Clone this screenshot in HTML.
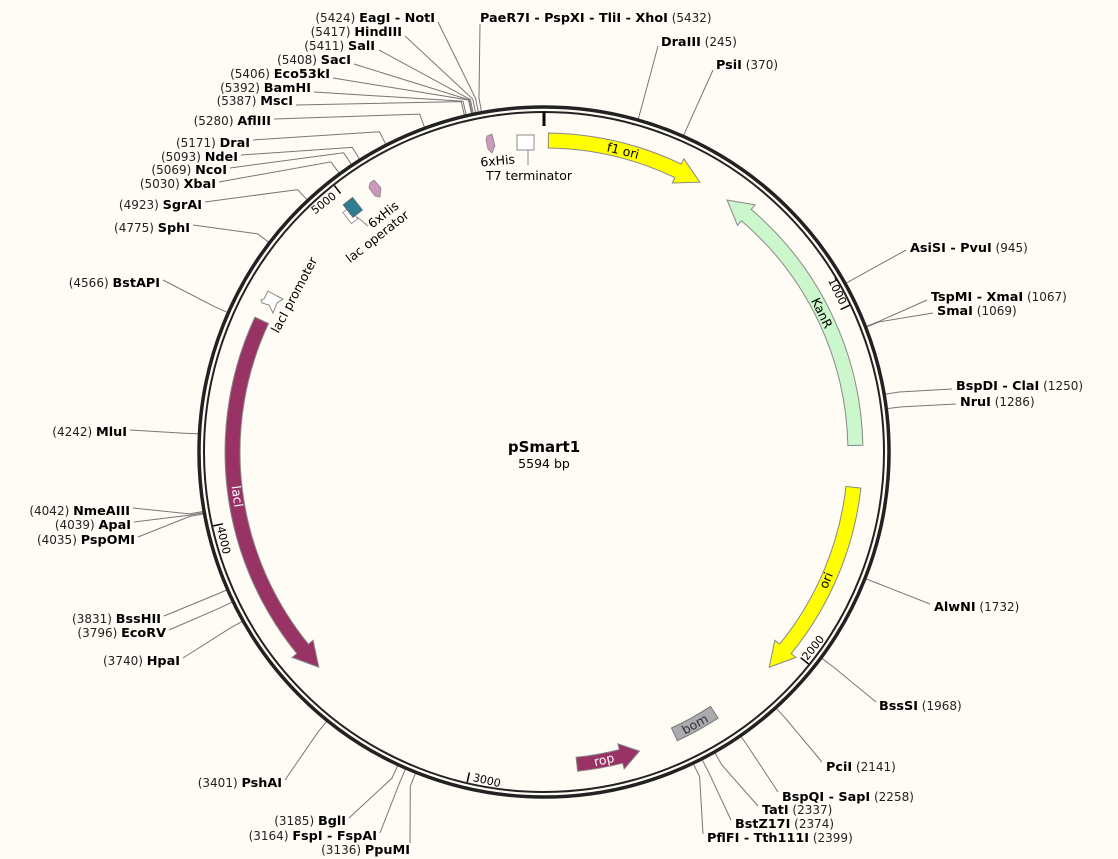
<!DOCTYPE html>
<html><head><meta charset="utf-8"><style>
html,body{margin:0;padding:0;background:#fffcf5;}
svg{display:block;font-family:"DejaVu Sans","Liberation Sans",sans-serif;}
.n{font-size:12px;fill:#222;}
.b{font-size:12.8px;font-weight:bold;fill:#000;}
.l{stroke:#777;stroke-width:1;fill:none;}
.t{font-size:11px;fill:#000;}
.f{font-size:12.5px;fill:#000;}
</style></head><body>
<svg id="s" width="1118" height="859" viewBox="0 0 1118 859" xmlns="http://www.w3.org/2000/svg">
<rect width="1118" height="859" fill="#fffcf5"/>
<g id="lines">
<polyline class="l" points="480,24 479,98 481.5,112"/>
<polyline class="l" points="438,22 475.7,98.6 478.3,112.3"/>
<polyline class="l" points="405,36 472.8,99.1 475.6,112.8"/>
<polyline class="l" points="379,50 470.4,99.6 473.2,113.3"/>
<polyline class="l" points="354,64 469.2,99.9 472.1,113.6"/>
<polyline class="l" points="333,78 468.5,100 471.5,113.7"/>
<polyline class="l" points="314,92 463,101.2 466.2,114.9"/>
<polyline class="l" points="296,105 461.2,101.6 464.4,115.3"/>
<polyline class="l" points="274,119 419.7,114.1 424.5,127.3"/>
<polyline class="l" points="253,140 379.4,131.8 385.8,144.3"/>
<polyline class="l" points="241,155 352.2,147.4 359.6,159.2"/>
<polyline class="l" points="230,168 343.7,152.8 351.5,164.5"/>
<polyline class="l" points="219,182 330.9,161.9 339.2,173.2"/>
<polyline class="l" points="205,202 297.6,189.6 307.2,199.8"/>
<polyline class="l" points="193,225 257.6,233.8 268.8,242.3"/>
<polyline class="l" points="163,280 214.6,306.7 227.4,312.4"/>
<polyline class="l" points="130,430 184.5,433.2 198.5,433.9"/>
<polyline class="l" points="133,508 189.4,513.9 203.2,511.5"/>
<polyline class="l" points="134,522 189.6,515.1 203.4,512.7"/>
<polyline class="l" points="138,537 189.8,516.4 203.6,513.9"/>
<polyline class="l" points="164,616 213.8,595.5 226.7,590"/>
<polyline class="l" points="169,630 219.6,608.1 232.2,602.1"/>
<polyline class="l" points="183,658 230,628.2 242.3,621.3"/>
<polyline class="l" points="285,780 317.9,732.2 326.7,721.3"/>
<polyline class="l" points="349,818 391.9,778.3 397.8,765.6"/>
<polyline class="l" points="380,833 399.9,781.9 405.5,769.1"/>
<polyline class="l" points="410,843 410.3,786.3 415.5,773.3"/>
<polyline class="l" points="658,46 642,105.6 638.2,119.1"/>
<polyline class="l" points="713,70 689.3,122.6 683.6,135.4"/>
<polyline class="l" points="906,250 858.2,276.4 846,283.2"/>
<polyline class="l" points="927,300 879.4,321.2 866.4,326.3"/>
<polyline class="l" points="933,313 879.6,321.8 866.6,326.9"/>
<polyline class="l" points="952,389 899,392 885.2,394.3"/>
<polyline class="l" points="956,404 901.2,406.9 887.3,408.6"/>
<polyline class="l" points="930,604 878.9,583.9 865.9,578.8"/>
<polyline class="l" points="876,702 833,666.6 821.8,658.3"/>
<polyline class="l" points="822,762 785.8,718.7 776.4,708.3"/>
<polyline class="l" points="778,792 749,748 741,736.4"/>
<polyline class="l" points="758,806 721.8,765 714.9,752.8"/>
<polyline class="l" points="731,820 708.6,772.2 702.2,759.7"/>
<polyline class="l" points="703,834 699.6,776.6 693.5,764"/>
</g>
<circle cx="544" cy="452" r="345" fill="none" stroke="#222" stroke-width="3.5"/>
<circle cx="544" cy="452" r="340" fill="none" stroke="#222" stroke-width="2"/>
<g stroke="#000">
<line x1="544" y1="112" x2="544" y2="126" stroke-width="3"/>
<line x1="849.6" y1="305.2" x2="840.6" y2="309.5" stroke-width="1.5"/>
<line x1="808.6" y1="664" x2="800.7" y2="657.7" stroke-width="1.5"/>
<line x1="467.2" y1="782.2" x2="469.4" y2="772.4" stroke-width="1.5"/>
<line x1="213.2" y1="525.9" x2="222.9" y2="523.8" stroke-width="1.5"/>
<line x1="334.4" y1="185.6" x2="340.5" y2="193.4" stroke-width="1.5"/>
</g>
<g class="t">
<text transform="translate(834,293) rotate(64)" text-anchor="middle">1000</text>
<text transform="translate(816,650) rotate(-51)" text-anchor="middle">2000</text>
<text transform="translate(486,784) rotate(13)" text-anchor="middle">3000</text>
<text transform="translate(220,541) rotate(77)" text-anchor="middle">4000</text>
<text transform="translate(326,206) rotate(-38)" text-anchor="middle">5000</text>
</g>
<g id="feat"></g>
<polygon points="487,136 492,134 495,146 492,153 488,149 486,140" fill="#cc99bb" stroke="#888" stroke-width="0.8"/>
<rect x="517" y="135" width="17" height="15" fill="#fff" stroke="#888" stroke-width="1"/>
<line x1="528" y1="150" x2="528" y2="165" stroke="#888"/>
<g transform="translate(352,208) rotate(-38)">
<rect x="-10" y="-2" width="8" height="14" fill="#fff" stroke="#888" stroke-width="0.8"/>
<rect x="-5" y="-8" width="12" height="16" fill="#2e7d94" stroke="#666" stroke-width="0.8"/>
</g>
<line x1="357" y1="217" x2="368" y2="226" stroke="#888"/>
<polygon points="370,183 374,180 381,188 380,197 375,196 369,188" fill="#cc99bb" stroke="#888" stroke-width="0.8"/>
<polygon points="268,291 277,296 283,299 277,303 273,313 269,305 262,303 261,300 264,299" fill="#fff" stroke="#888" stroke-width="1"/>
<g class="f">
<text transform="translate(498,165) rotate(-5)" text-anchor="middle">6xHis</text>
<text x="529" y="180" text-anchor="middle">T7 terminator</text>
<text transform="translate(386,218) rotate(-38)" text-anchor="middle">6xHis</text>
<text transform="translate(380,240) rotate(-38)" text-anchor="middle">lac operator</text>
<text transform="translate(298,297) rotate(-62)" text-anchor="middle">lacI promoter</text>
</g>
<g class="f">
<text transform="translate(622,155) rotate(14)" text-anchor="middle">f1 ori</text>
<text transform="translate(818,315) rotate(64)" text-anchor="middle">KanR</text>
<text transform="translate(830,582) rotate(-67)" text-anchor="middle">ori</text>
<text transform="translate(233,497) rotate(82)" text-anchor="middle" fill="#fff">lacI</text>
<text transform="translate(605,764) rotate(-13)" text-anchor="middle" fill="#fff">rop</text>
<text transform="translate(697,728) rotate(-29)" text-anchor="middle" fill="#333">bom</text>
</g>
<text x="544" y="452" text-anchor="middle" style="font-size:15px;font-weight:bold">pSmart1</text>
<text x="544" y="468" text-anchor="middle" style="font-size:12.5px">5594 bp</text>
<g text-anchor="end">
<text x="435" y="22"><tspan class="n">(5424)  </tspan><tspan class="b">EagI - NotI</tspan></text>
<text x="402" y="36"><tspan class="n">(5417)  </tspan><tspan class="b">HindIII</tspan></text>
<text x="375" y="50"><tspan class="n">(5411)  </tspan><tspan class="b">SalI</tspan></text>
<text x="351" y="64"><tspan class="n">(5408)  </tspan><tspan class="b">SacI</tspan></text>
<text x="330" y="78"><tspan class="n">(5406)  </tspan><tspan class="b">Eco53kI</tspan></text>
<text x="311" y="92"><tspan class="n">(5392)  </tspan><tspan class="b">BamHI</tspan></text>
<text x="293" y="105"><tspan class="n">(5387)  </tspan><tspan class="b">MscI</tspan></text>
<text x="271" y="125"><tspan class="n">(5280)  </tspan><tspan class="b">AflIII</tspan></text>
<text x="250" y="147"><tspan class="n">(5171)  </tspan><tspan class="b">DraI</tspan></text>
<text x="238" y="161"><tspan class="n">(5093)  </tspan><tspan class="b">NdeI</tspan></text>
<text x="227" y="174"><tspan class="n">(5069)  </tspan><tspan class="b">NcoI</tspan></text>
<text x="216" y="188"><tspan class="n">(5030)  </tspan><tspan class="b">XbaI</tspan></text>
<text x="202" y="209"><tspan class="n">(4923)  </tspan><tspan class="b">SgrAI</tspan></text>
<text x="190" y="232"><tspan class="n">(4775)  </tspan><tspan class="b">SphI</tspan></text>
<text x="160" y="287"><tspan class="n">(4566)  </tspan><tspan class="b">BstAPI</tspan></text>
<text x="127" y="436"><tspan class="n">(4242)  </tspan><tspan class="b">MluI</tspan></text>
<text x="130" y="515"><tspan class="n">(4042)  </tspan><tspan class="b">NmeAIII</tspan></text>
<text x="131" y="529"><tspan class="n">(4039)  </tspan><tspan class="b">ApaI</tspan></text>
<text x="135" y="544"><tspan class="n">(4035)  </tspan><tspan class="b">PspOMI</tspan></text>
<text x="161" y="623"><tspan class="n">(3831)  </tspan><tspan class="b">BssHII</tspan></text>
<text x="166" y="637"><tspan class="n">(3796)  </tspan><tspan class="b">EcoRV</tspan></text>
<text x="180" y="665"><tspan class="n">(3740)  </tspan><tspan class="b">HpaI</tspan></text>
<text x="282" y="787"><tspan class="n">(3401)  </tspan><tspan class="b">PshAI</tspan></text>
<text x="346" y="825"><tspan class="n">(3185)  </tspan><tspan class="b">BglI</tspan></text>
<text x="377" y="840"><tspan class="n">(3164)  </tspan><tspan class="b">FspI - FspAI</tspan></text>
<text x="410" y="854"><tspan class="n">(3136)  </tspan><tspan class="b">PpuMI</tspan></text>
</g>
<g>
<text x="480" y="22"><tspan class="b">PaeR7I - PspXI - TliI - XhoI</tspan><tspan class="n">  (5432)</tspan></text>
<text x="661" y="46"><tspan class="b">DraIII</tspan><tspan class="n">  (245)</tspan></text>
<text x="716" y="69"><tspan class="b">PsiI</tspan><tspan class="n">  (370)</tspan></text>
<text x="910" y="252"><tspan class="b">AsiSI - PvuI</tspan><tspan class="n">  (945)</tspan></text>
<text x="931" y="301"><tspan class="b">TspMI - XmaI</tspan><tspan class="n">  (1067)</tspan></text>
<text x="937" y="315"><tspan class="b">SmaI</tspan><tspan class="n">  (1069)</tspan></text>
<text x="956" y="390"><tspan class="b">BspDI - ClaI</tspan><tspan class="n">  (1250)</tspan></text>
<text x="960" y="406"><tspan class="b">NruI</tspan><tspan class="n">  (1286)</tspan></text>
<text x="934" y="611"><tspan class="b">AlwNI</tspan><tspan class="n">  (1732)</tspan></text>
<text x="879" y="710"><tspan class="b">BssSI</tspan><tspan class="n">  (1968)</tspan></text>
<text x="826" y="771"><tspan class="b">PciI</tspan><tspan class="n">  (2141)</tspan></text>
<text x="782" y="801"><tspan class="b">BspQI - SapI</tspan><tspan class="n">  (2258)</tspan></text>
<text x="762" y="814"><tspan class="b">TatI</tspan><tspan class="n">  (2337)</tspan></text>
<text x="735" y="828"><tspan class="b">BstZ17I</tspan><tspan class="n">  (2374)</tspan></text>
<text x="707" y="842"><tspan class="b">PflFI - Tth111I</tspan><tspan class="n">  (2399)</tspan></text>
</g>
</svg>
<script>
(function(){
function P(r,a){a=a*Math.PI/180;return (544+r*Math.sin(a)).toFixed(1)+','+(452-r*Math.cos(a)).toFixed(1);}
function arrow(a1,a2,dir,fill,r1,r2,h){
 r1=r1||304;r2=r2||319;h=h||4.5;var rc=(r1+r2)/2,d,b;
 if(dir>0){b=a2-h;var f=(b-a1)>180?1:0;
  d='M'+P(r2,a1)+' A'+r2+','+r2+' 0 '+f+' 1 '+P(r2,b)+' L'+P(r2+6,b)+' L'+P(rc,a2)+' L'+P(r1-6,b)+' L'+P(r1,b)+' A'+r1+','+r1+' 0 '+f+' 0 '+P(r1,a1)+' Z';}
 else{b=a1+h;var f=(a2-b)>180?1:0;
  d='M'+P(r2,a2)+' A'+r2+','+r2+' 0 '+f+' 0 '+P(r2,b)+' L'+P(r2+6,b)+' L'+P(rc,a1)+' L'+P(r1-6,b)+' L'+P(r1,b)+' A'+r1+','+r1+' 0 '+f+' 1 '+P(r1,a2)+' Z';}
 return '<path d="'+d+'" fill="'+fill+'" stroke="#888" stroke-width="1"/>';
}
function box(a1,a2,fill,r1,r2){
 return '<path d="M'+P(r2,a1)+' A'+r2+','+r2+' 0 0 1 '+P(r2,a2)+' L'+P(r1,a2)+' A'+r1+','+r1+' 0 0 0 '+P(r1,a1)+' Z" fill="'+fill+'" stroke="#777" stroke-width="1"/>';
}
var s='';
s+=arrow(0.8,30,1,'#ffff00');
s+=arrow(36,88.8,-1,'#ccf7cc');
s+=arrow(96.5,133.7,1,'#ffff00');
s+=arrow(226.3,295,-1,'#993366');
s+=arrow(162.3,174,-1,'#993366',307,321,3.5);
s+=box(146.8,155.2,'#a9abae',304,318);
document.getElementById('feat').innerHTML=s;
})();
</script>
</body></html>
